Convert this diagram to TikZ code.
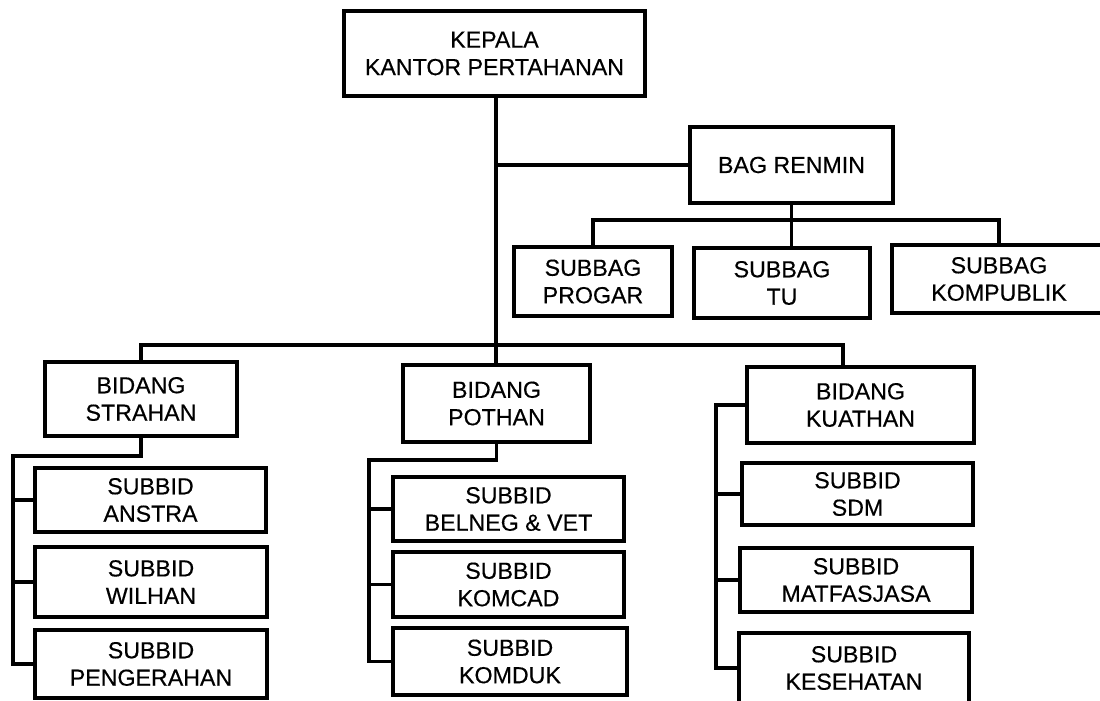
\documentclass[tikz,border=0pt]{standalone}
\usepackage{fontspec}
\setmainfont{Liberation Sans}
\newfontfamily\boxfont[FakeBold=0.4]{Liberation Sans}
\begin{document}
\begin{tikzpicture}[x=0.025cm,y=-0.025cm,
  box/.style={draw, line width=2.8pt, inner sep=0pt, align=center,
    font=\boxfont\fontsize{16.5}{19.5}\selectfont},
  conn/.style={line width=2.7pt}]
\newcommand\bx[6]{\node[box, minimum width={(#4-#2)*0.025cm}, minimum height={(#5-#3)*0.025cm}]
  (#1) at ({(#2+#4)/2},{(#3+#5)/2}) {#6};}
\useasboundingbox (0,0) rectangle (1100,700);
% nodes
\bx{kepala}{344}{11}{645}{96}{KEPALA\\KANTOR PERTAHANAN}
\bx{bag}{690}{127}{893}{203}{BAG RENMIN}
\bx{progar}{514}{247}{672}{316}{SUBBAG\\PROGAR}
\bx{tu}{694}{248}{870}{318}{SUBBAG\\TU}
\bx{kompublik}{892}{245}{1106}{313}{SUBBAG\\KOMPUBLIK}
\bx{strahan}{45}{362}{237}{436}{BIDANG\\STRAHAN}
\bx{anstra}{35}{468}{266}{532}{SUBBID\\ANSTRA}
\bx{wilhan}{35}{547}{267}{617}{SUBBID\\WILHAN}
\bx{pengerahan}{35}{630}{267}{698}{SUBBID\\PENGERAHAN}
\bx{pothan}{403}{365}{590}{442}{BIDANG\\POTHAN}
\bx{belneg}{393}{477}{624}{541}{SUBBID\\BELNEG \& VET}
\bx{komcad}{393}{552}{624}{617}{SUBBID\\KOMCAD}
\bx{komduk}{393}{628}{627}{695}{SUBBID\\KOMDUK}
\bx{kuathan}{747}{367}{974}{443}{BIDANG\\KUATHAN}
\bx{sdm}{742}{463}{973}{525}{SUBBID\\SDM}
\bx{matfas}{740}{548}{972}{612}{SUBBID\\MATFASJASA}
\bx{kesehatan}{739}{633}{969}{703}{SUBBID\\KESEHATAN}
% junction points
\coordinate (bus) at (496,345);
\coordinate (kdrop) at (843,345);
\coordinate (bagbus) at (793,220);
\coordinate (sl) at (13,456);
\coordinate (pl) at (369,460);
\coordinate (kl) at (716,405);
% connectors
\draw[conn] (bus |- kepala.south) -- (bus |- pothan.north);
\draw[conn] (bus |- bag.west) -- (bag.west);
\draw[conn] (bag.south) -- (bag.south |- tu.north);
\draw[conn] (progar.north) |- (bagbus) -| (kompublik.north);
\draw[conn] (strahan.north) |- (kdrop) -- (kdrop |- kuathan.north);
\draw[conn] (strahan.south) |- (sl) |- (pengerahan.west);
\draw[conn] (sl |- anstra.west) -- (anstra.west);
\draw[conn] (sl |- wilhan.west) -- (wilhan.west);
\draw[conn] (pothan.south) |- (pl) |- (komduk.west);
\draw[conn] (pl |- belneg.west) -- (belneg.west);
\draw[conn] (pl |- komcad.west) -- (komcad.west);
\draw[conn] (kuathan.west) -- (kl) |- (kesehatan.west);
\draw[conn] (kl |- sdm.west) -- (sdm.west);
\draw[conn] (kl |- matfas.west) -- (matfas.west);
\end{tikzpicture}
\end{document}
